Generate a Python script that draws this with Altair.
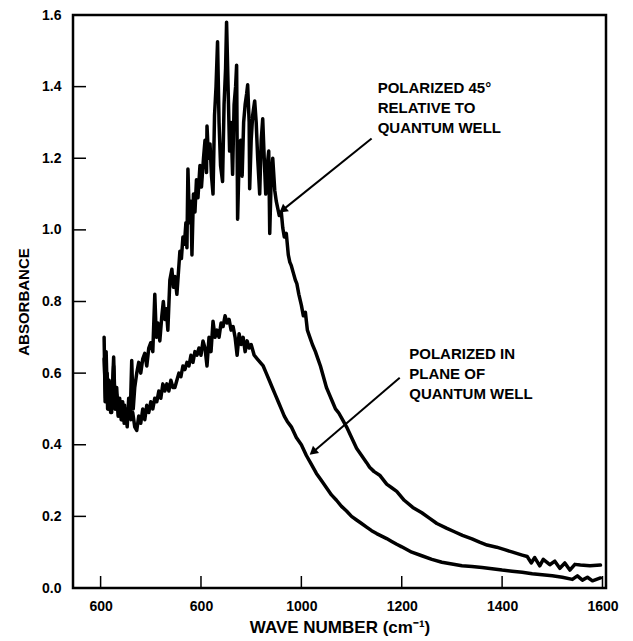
import altair as alt
import pandas as pd

# ---------------- data ----------------
upper_x = [607, 609, 611, 614, 617, 620, 623, 626, 629, 632, 635, 638, 641, 644, 647, 650, 653, 656, 659, 662,
           665, 668, 672, 676, 680, 684, 688, 692, 696, 700, 704, 708, 711, 714, 718, 722, 725, 728, 731, 734,
           738, 742, 745, 748, 752, 756, 758, 761, 764, 767, 770, 772, 774, 777, 780, 782, 785, 788, 791, 794,
           798, 801, 805, 808, 811, 812, 815, 818, 821, 824, 827, 830, 833, 836, 839, 843, 846, 849, 851, 854,
           857, 860, 863, 866, 869, 871, 873, 876, 879, 882, 885, 888, 891, 893, 896, 897, 900, 903, 907, 910,
           913, 917, 920, 923, 926, 929, 932, 935, 937, 940, 943, 947, 950, 953, 956, 960, 963, 966, 970, 974,
           977, 980, 984, 988, 991, 995, 1000, 1004, 1008, 1012, 1017, 1022, 1028, 1033, 1038, 1044, 1050, 1056,
           1062, 1068, 1074, 1082, 1090, 1100, 1110, 1120, 1130, 1136, 1145, 1156, 1170, 1180, 1190, 1205, 1222,
           1240, 1255, 1270, 1289, 1305, 1321, 1340, 1355, 1370, 1389, 1405, 1421, 1440, 1450, 1458, 1465, 1475,
           1482, 1495, 1505, 1515, 1525, 1535, 1545, 1556, 1575, 1596]
upper_y = [0.70, 0.52, 0.66, 0.50, 0.58, 0.49, 0.54, 0.645, 0.50, 0.56, 0.48, 0.53, 0.47, 0.52, 0.46, 0.50, 0.45, 0.53, 0.48, 0.635,
           0.50, 0.56, 0.60, 0.63, 0.60, 0.64, 0.655, 0.62, 0.67, 0.685, 0.66, 0.82, 0.70, 0.74, 0.69, 0.76, 0.80, 0.75, 0.78, 0.72,
           0.86, 0.89, 0.84, 0.87, 0.82, 0.90, 0.94, 0.92, 0.98, 0.96, 1.02, 0.95, 1.17, 1.02, 1.08, 0.93, 1.10, 1.05, 1.14, 1.09,
           1.18, 1.12, 1.20, 1.25, 1.16, 1.29, 1.20, 1.24, 1.15, 1.10, 1.32, 1.40, 1.525, 1.30, 1.18, 1.135, 1.35, 1.45, 1.58, 1.40,
           1.22, 1.30, 1.155, 1.35, 1.40, 1.46, 1.03, 1.20, 1.25, 1.15, 1.30, 1.35, 1.38, 1.405, 1.30, 1.115, 1.25, 1.32, 1.36, 1.30,
           1.20, 1.10, 1.25, 1.31, 1.20, 1.10, 1.18, 1.22, 0.99, 1.15, 1.20, 1.11, 1.08, 1.06, 1.04, 1.05, 1.005, 0.98, 0.99, 0.93,
           0.91, 0.90, 0.88, 0.86, 0.85, 0.82, 0.79, 0.76, 0.77, 0.72, 0.70, 0.68, 0.66, 0.64, 0.62, 0.59, 0.56, 0.54,
           0.52, 0.50, 0.49, 0.47, 0.45, 0.42, 0.39, 0.37, 0.35, 0.337, 0.325, 0.315, 0.29, 0.28, 0.27, 0.245, 0.225,
           0.21, 0.195, 0.18, 0.167, 0.157, 0.147, 0.137, 0.128, 0.12, 0.114, 0.107, 0.10, 0.092, 0.088, 0.07, 0.085, 0.062,
           0.08, 0.065, 0.075, 0.055, 0.07, 0.05, 0.066, 0.064, 0.062, 0.064]

lower_x = [607, 610, 613, 616, 619, 622, 626, 629, 632, 636, 640, 644, 648, 652, 656, 660, 664, 668, 672, 676,
           680, 684, 688, 692, 696, 700, 704, 708, 712, 716, 720, 724, 728, 732, 736, 740, 744, 748, 752, 756,
           760, 764, 768, 772, 776, 780, 784, 788, 792, 796, 800, 804, 808, 812, 816, 820, 824, 828, 832, 836,
           840, 844, 848, 852, 856, 860, 864, 868, 872, 876, 880, 884, 888, 892, 896, 900, 906, 912, 918, 924,
           930, 936, 942, 948, 954, 960, 966, 972, 980, 990, 1000, 1010, 1020, 1030, 1040, 1050, 1060, 1070, 1080,
           1090, 1100, 1110, 1120, 1130, 1140, 1150, 1160, 1170, 1180, 1190, 1200, 1220, 1240, 1260, 1280, 1300,
           1320, 1340, 1360, 1380, 1400, 1420, 1440, 1460, 1480, 1500, 1520, 1540, 1550, 1560, 1570, 1580, 1596]
lower_y = [0.64, 0.53, 0.60, 0.50, 0.56, 0.49, 0.62, 0.50, 0.54, 0.48, 0.52, 0.47, 0.51, 0.46, 0.50, 0.47, 0.49, 0.45, 0.44, 0.48,
           0.46, 0.50, 0.47, 0.51, 0.49, 0.52, 0.50, 0.53, 0.52, 0.55, 0.53, 0.57, 0.55, 0.57, 0.55, 0.58, 0.56, 0.56, 0.58, 0.60,
           0.59, 0.62, 0.61, 0.63, 0.62, 0.65, 0.63, 0.66, 0.65, 0.67, 0.65, 0.69, 0.67, 0.62, 0.70, 0.66, 0.745, 0.70, 0.72, 0.70,
           0.74, 0.73, 0.76, 0.74, 0.75, 0.72, 0.73, 0.70, 0.65, 0.71, 0.68, 0.70, 0.66, 0.69, 0.67, 0.68, 0.65, 0.64, 0.63, 0.62,
           0.60, 0.58, 0.56, 0.54, 0.52, 0.50, 0.48, 0.465, 0.45, 0.42, 0.40, 0.37, 0.345, 0.32, 0.30, 0.28, 0.26, 0.245, 0.228,
           0.215, 0.20, 0.19, 0.18, 0.17, 0.16, 0.152, 0.145, 0.138, 0.13, 0.122, 0.115, 0.10, 0.09, 0.08, 0.072, 0.067,
           0.062, 0.06, 0.057, 0.054, 0.05, 0.047, 0.044, 0.04, 0.037, 0.034, 0.03, 0.024, 0.034, 0.022, 0.03, 0.02, 0.028]

x_ticks = [600, 800, 1000, 1200, 1400, 1600]
x_tick_labels = ["600", "600", "1000", "1200", "1400", "1600"]
y_ticks = [0.0, 0.2, 0.4, 0.6, 0.8, 1.0, 1.2, 1.4, 1.6]

labels_text = [["POLARIZED 45°", "RELATIVE TO", "QUANTUM WELL"],
               ["POLARIZED IN", "PLANE OF", "QUANTUM WELL"]]
labels_x = [1152, 1215]
labels_y = [1.415, 0.672]

arrow_x = [1140, 1196]
arrow_y = [1.255, 0.587]
arrow_x2 = [965, 1025]
arrow_y2 = [1.058, 0.382]
arrow_angle = [232, 230]

# ---------------- build tables ----------------
curves = pd.concat([
    pd.DataFrame({"wn": upper_x, "abs": upper_y, "series": "45"}),
    pd.DataFrame({"wn": lower_x, "abs": lower_y, "series": "plane"}),
])
xt = pd.DataFrame({"v": x_ticks})
yt = pd.DataFrame({"v": y_ticks})
lab = alt.Data(values=[{"x": a, "y": b, "t": t} for a, b, t in zip(labels_x, labels_y, labels_text)])
arr = pd.DataFrame({"x": arrow_x, "y": arrow_y, "x2": arrow_x2, "y2": arrow_y2, "ang": arrow_angle})

FONT = "Liberation Sans"
W, H = 533, 573
xs = alt.Scale(domain=[545, 1607], nice=False, zero=False)
ys = alt.Scale(domain=[0, 1.6], nice=False)

label_expr = " : ".join(
    [f"datum.value == {v} ? '{t}'" for v, t in zip(x_ticks, x_tick_labels)]) + " : ''"

lines = alt.Chart(curves).mark_line(color="black", strokeWidth=3.5, strokeJoin="round", strokeCap="round").encode(
    x=alt.X("wn:Q", scale=xs,
            axis=alt.Axis(values=x_ticks, labelExpr=label_expr, title="WAVE  NUMBER (cm⁻¹)",
                          tickSize=0, domain=False, grid=False, labelPadding=11,
                          labelFont=FONT, labelFontSize=14, labelFontWeight="bold", labelColor="black",
                          titleFont=FONT, titleFontSize=17, titleFontWeight="bold", titleColor="black",
                          titlePadding=6, labelFlush=False, labelOverlap=False, labelBound=False)),
    y=alt.Y("abs:Q", scale=ys,
            axis=alt.Axis(values=y_ticks, format=".1f", title="ABSORBANCE",
                          tickSize=0, domain=False, grid=False, labelPadding=12,
                          labelFont=FONT, labelFontSize=14, labelFontWeight="bold", labelColor="black",
                          titleFont=FONT, titleFontSize=15, titleFontWeight="bold", titleColor="black",
                          titlePadding=10, labelFlush=False, labelOverlap=False)),
    detail="series:N",
)

xtick = alt.Chart(xt).mark_rule(color="black", strokeWidth=1.5).encode(
    x=alt.X("v:Q", scale=xs), y=alt.value(H), y2=alt.value(H - 12))
ytick = alt.Chart(yt).mark_rule(color="black", strokeWidth=1.5).encode(
    y=alt.Y("v:Q", scale=ys), x=alt.value(0), x2=alt.value(13))

text = alt.Chart(lab).mark_text(align="left", baseline="top", font=FONT, fontSize=15, fontWeight="bold",
                                 color="black", lineHeight=20).encode(
    x=alt.X("x:Q", scale=xs), y=alt.Y("y:Q", scale=ys), text=alt.Text("t:N"))

shaft = alt.Chart(arr).mark_rule(color="black", strokeWidth=2).encode(
    x=alt.X("x:Q", scale=xs), y=alt.Y("y:Q", scale=ys), x2="x2:Q", y2="y2:Q")
head = alt.Chart(arr).mark_point(shape="triangle", filled=True, color="black", size=90, opacity=1).encode(
    x=alt.X("x2:Q", scale=xs), y=alt.Y("y2:Q", scale=ys), angle=alt.Angle("ang:Q", scale=None))

chart = alt.layer(lines, xtick, ytick, shaft, head, text).properties(
    width=W, height=H,
    autosize=alt.AutoSizeParams(type="none"),
    padding={"left": 65, "top": 7, "right": 19, "bottom": 53},
    background="white",
).configure_view(stroke="black", strokeWidth=2.5)

chart.save("out.html", embed_options={"renderer": "svg", "actions": False})
